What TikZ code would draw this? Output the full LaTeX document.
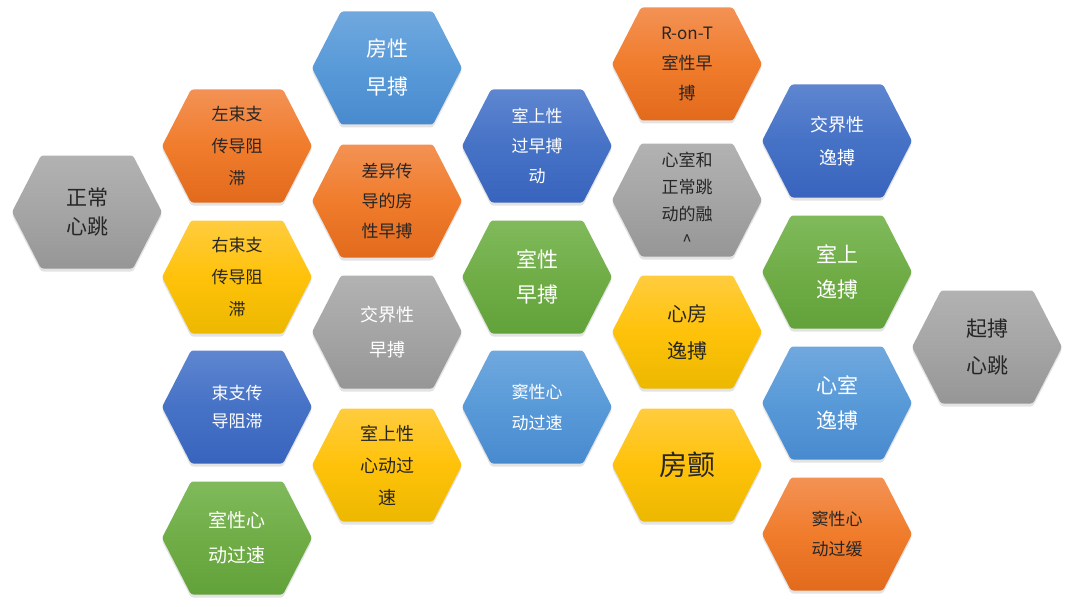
\documentclass[tikz,border=0pt]{standalone}
\usepackage{fontspec}
\setmainfont{Noto Sans CJK SC}
\usetikzlibrary{shadows}
\definecolor{txtdark}{HTML}{262626}
\tikzset{
  x=1pt, y=-1pt,
  hexbase/.style={rounded corners=2.5pt, drop shadow={shadow xshift=0pt, shadow yshift=-3pt, opacity=0.22}},
  cOrange/.style={top color=orange!0!white, bottom color=white},
  fillorange/.style={top color={rgb,255:red,243;green,146;blue,84}, bottom color={rgb,255:red,226;green,106;blue,28}, middle color={rgb,255:red,240;green,124;blue,44}},
  fillgold/.style={top color={rgb,255:red,255;green,204;blue,62}, bottom color={rgb,255:red,236;green,184;blue,0}, middle color={rgb,255:red,255;green,194;blue,10}},
  fillgray/.style={top color={rgb,255:red,178;green,178;blue,178}, bottom color={rgb,255:red,150;green,150;blue,150}, middle color={rgb,255:red,165;green,165;blue,165}},
  fillblue/.style={top color={rgb,255:red,94;green,134;blue,208}, bottom color={rgb,255:red,56;green,100;blue,190}, middle color={rgb,255:red,70;green,114;blue,198}},
  filllblue/.style={top color={rgb,255:red,112;green,168;blue,222}, bottom color={rgb,255:red,72;green,138;blue,206}, middle color={rgb,255:red,88;green,154;blue,216}},
  fillgreen/.style={top color={rgb,255:red,128;green,186;blue,92}, bottom color={rgb,255:red,98;green,162;blue,58}, middle color={rgb,255:red,112;green,173;blue,71}},
  tdark/.style={text=txtdark},
  tlight/.style={text=white},
  hextext/.style={align=center, inner sep=0pt},
}
% name, x, y, fill style, text style, font size, leading, text
\newcommand\hexcell[8]{%
  \path[hexbase, #4] ({#2-75},#3) -- ({#2-46},{#3-56.5}) -- ({#2+46},{#3-56.5}) -- ({#2+75},#3) -- ({#2+46},{#3+56.5}) -- ({#2-46},{#3+56.5}) -- cycle;
  \node[hextext, #5, font=\fontsize{#6}{#7}\selectfont] (#1) at (#2,#3) {#8};
}
\begin{document}
\begin{tikzpicture}
\useasboundingbox (0,0) rectangle (1070,607);
\fill[white] (0,0) rectangle (1070,607);
% column 1
\hexcell{zc}{87}{212}{fillgray}{tdark}{21}{29}{正常\\心跳}
% column 2
\hexcell{zsz}{237}{146}{fillorange}{tdark}{17}{32}{左束支\\传导阻\\滞}
\hexcell{ysz}{237}{277}{fillgold}{tdark}{17}{32}{右束支\\传导阻\\滞}
\hexcell{sz}{237}{407}{fillblue}{tlight}{17}{28}{束支传\\导阻滞}
\hexcell{sxgs}{237}{538}{fillgreen}{tlight}{19}{35}{室性心\\动过速}
% column 3
\hexcell{fxzb}{387}{68}{filllblue}{tlight}{21}{38}{房性\\早搏}
\hexcell{cy}{387}{201}{fillorange}{tdark}{17}{30}{差异传\\导的房\\性早搏}
\hexcell{jjzb}{387}{332}{fillgray}{tlight}{18}{35}{交界性\\早搏}
\hexcell{ssgs}{387}{465}{fillgold}{tdark}{18}{32}{室上性\\心动过\\速}
% column 4
\hexcell{ssgz}{537}{146}{fillblue}{tlight}{17}{30}{室上性\\过早搏\\动}
\hexcell{sxzb}{537}{277}{fillgreen}{tlight}{21}{35}{室性\\早搏}
\hexcell{dxgs}{537}{407}{filllblue}{tlight}{17}{31}{窦性心\\动过速}
% column 5
\hexcell{ront}{687}{64}{fillorange}{tdark}{17}{30}{R-on-T\\室性早\\搏}
\hexcell{rh}{687}{200}{fillgray}{tdark}{17}{27}{心室和\\正常跳\\动的融\\\textasciicircum}
\hexcell{xfyb}{687}{332}{fillgold}{tdark}{20}{37}{心房\\逸搏}
\hexcell{fc}{687}{465}{fillgold}{tdark}{28}{34}{房颤}
% column 6
\hexcell{jjyb}{837}{141}{fillblue}{tlight}{18}{33}{交界性\\逸搏}
\hexcell{ssyb}{837}{272}{fillgreen}{tlight}{21}{35}{室上\\逸搏}
\hexcell{xsyb}{837}{403}{filllblue}{tlight}{21}{35}{心室\\逸搏}
\hexcell{dxgh}{837}{534}{fillorange}{tdark}{17}{30}{窦性心\\动过缓}
% column 7
\hexcell{qb}{987}{347}{fillgray}{tdark}{21}{37}{起搏\\心跳}
\end{tikzpicture}
\end{document}
